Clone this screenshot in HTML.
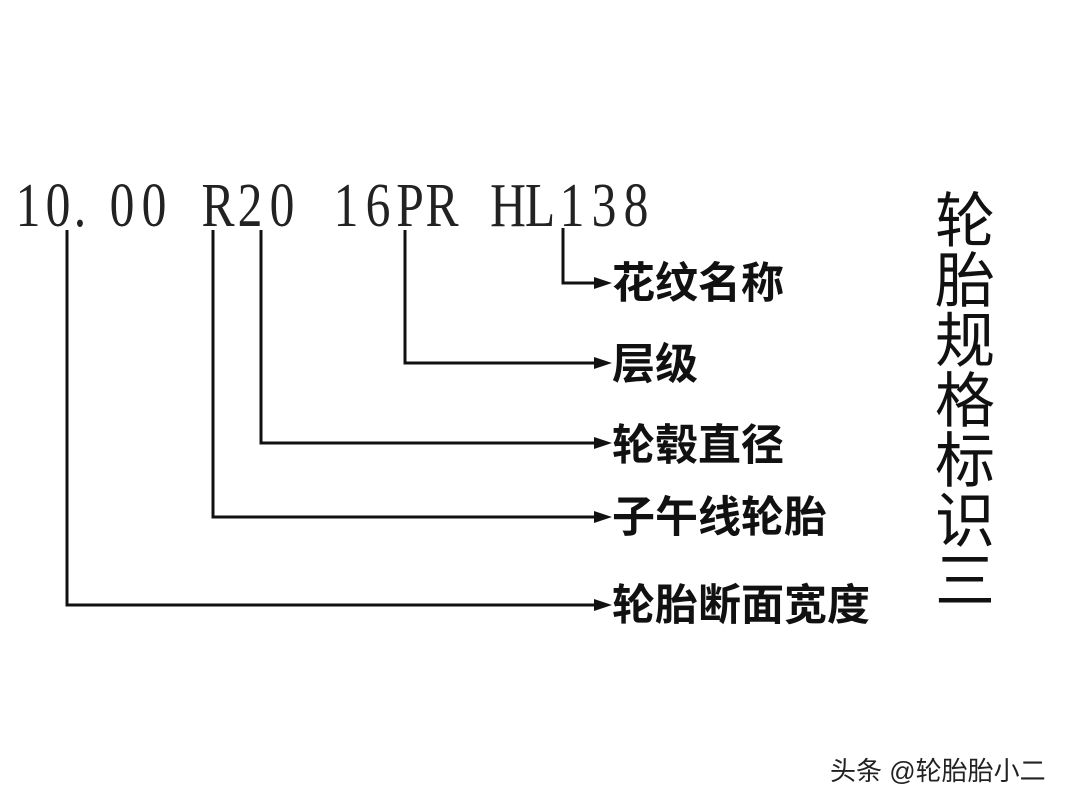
<!DOCTYPE html>
<html><head><meta charset="utf-8"><style>
html,body{margin:0;padding:0;background:#fff;}
svg{display:block}
</style></head><body>
<svg width="1080" height="810" viewBox="0 0 1080 810" xmlns="http://www.w3.org/2000/svg">
<rect width="1080" height="810" fill="#fff"/>
<g font-family="Liberation Serif, serif" font-size="62" fill="#222" text-anchor="middle" transform="scale(0.8,1)">
<text x="35" y="226">1</text><text x="72.5" y="226">0</text><text x="100" y="226">.</text>
<text x="152.5" y="226">0</text><text x="192.5" y="226">0</text>
<text x="272.5" y="226">R</text><text x="312.5" y="226">2</text><text x="352.5" y="226">0</text>
<text x="432.5" y="226">1</text><text x="472.5" y="226">6</text><text x="512.5" y="226">P</text><text x="552.5" y="226">R</text>
<text x="635" y="226">H</text><text x="675" y="226">L</text><text x="715" y="226">1</text><text x="755" y="226">3</text><text x="795" y="226">8</text>
</g>
<g stroke="#111" stroke-width="3" fill="none">
<polyline points="67,230 67,605 598,605"/>
<polyline points="213,230 213,517 598,517"/>
<polyline points="261,230 261,443 598,443"/>
<polyline points="405,230 405,363 598,363"/>
<polyline points="563,228 563,283 598,283"/>
</g>
<g fill="#111">
<polygon points="594,277 612,283 594,289"/>
<polygon points="594,357 612,363 594,369"/>
<polygon points="594,437 612,443 594,449"/>
<polygon points="594,511 612,517 594,523"/>
<polygon points="594,599 612,605 594,611"/>
</g>
<g font-family="Liberation Sans, Noto Sans CJK SC, sans-serif" font-size="43" font-weight="bold" fill="#111">
<text x="612" y="298">花纹名称</text>
<text x="612" y="379">层级</text>
<text x="612" y="460">轮毂直径</text>
<text x="612" y="532">子午线轮胎</text>
<text x="612" y="620">轮胎断面宽度</text>
</g>
<g font-family="Liberation Sans, Noto Sans CJK SC, sans-serif" font-size="60" fill="#111" text-anchor="middle">
<text x="965" y="242">轮</text>
<text x="965" y="302">胎</text>
<text x="965" y="362">规</text>
<text x="965" y="422">格</text>
<text x="965" y="482">标</text>
<text x="965" y="542">识</text>
<text x="965" y="602">三</text>
</g>
<text x="830" y="780" font-family="Liberation Sans, Noto Sans CJK SC, sans-serif" font-size="26" fill="#222">头条 @轮胎胎小二</text>
</svg>
</body></html>
